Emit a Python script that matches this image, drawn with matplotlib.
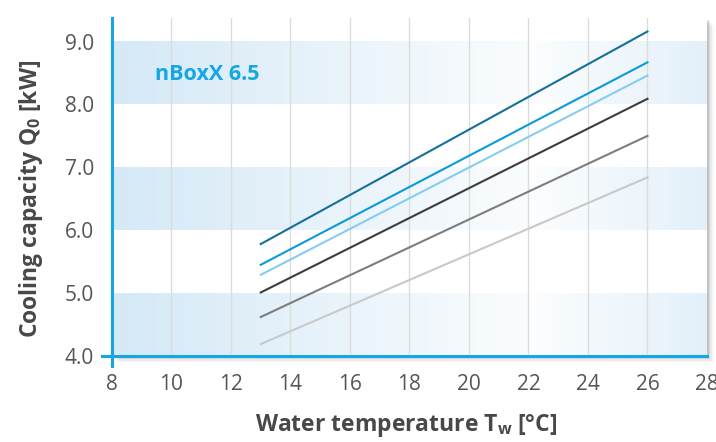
import numpy as np
import matplotlib.pyplot as plt
from matplotlib.colors import LinearSegmentedColormap
from matplotlib.patches import Rectangle

# water temperature range of the curves
t_w = [13, 26]
# cooling capacity at start / end of each curve (kW)
q_darkblue = [5.78, 9.16]
q_blue = [5.45, 8.67]
q_lightblue = [5.29, 8.46]
q_darkgrey = [5.01, 8.09]
q_grey = [4.62, 7.50]
q_lightgrey = [4.19, 6.84]

series = [q_darkblue, q_blue, q_lightblue, q_darkgrey, q_grey, q_lightgrey]
colors = ['#14709a', '#0a9ad8', '#86cdf0', '#3c3c3c', '#7d7d7d', '#c9c9c9']

x_ticks = [8, 10, 12, 14, 16, 18, 20, 22, 24, 26, 28]
y_ticks = [4.0, 5.0, 6.0, 7.0, 8.0, 9.0]
bands = [(4.0, 5.0), (6.0, 7.0), (8.0, 9.0)]

cyan = '#16a6e3'
txt = '#484848'
plt.rcParams['font.family'] = ['Open Sans', 'DejaVu Sans']

fig = plt.figure(figsize=(7.16, 4.42), dpi=100)
ax = fig.add_axes([0.1564, 0.1946, 0.8310, 0.7640])
xmin, xmax, ymin, ymax = 8, 28, 4.0, 9.37

# drop shadow right and bottom
for i, a in enumerate([0.10, 0.07, 0.045, 0.025, 0.012]):
    d = (i + 1) * 0.0022
    fig.patches.append(Rectangle((0.1564 + d, 0.1946 - d * 1.6), 0.8310, 0.7640,
                                 transform=fig.transFigure, facecolor='#000000',
                                 alpha=a, edgecolor='none', zorder=-5))

ax.set_facecolor('white')
# horizontal gradient for blue bands
cmap = LinearSegmentedColormap.from_list('band', [(0, '#d5e9f7'), (0.72, '#fbfdfe'), (1, '#e3f0fa')])
grad = np.linspace(0, 1, 256).reshape(1, -1)
for lo, hi in bands:
    ax.imshow(grad, cmap=cmap, aspect='auto', extent=[xmin, xmax, lo, hi], zorder=0,
              interpolation='bilinear')

for x in x_ticks[1:-1]:
    ax.plot([x, x], [ymin + 0.04, ymax], color='#dcdcdc', lw=1.0, zorder=1)

for q, c in zip(series, colors):
    ax.plot(t_w, q, color=c, lw=1.5, zorder=3)

ax.text(9.45, 8.48, 'nBoxX 6.5', color=cyan, fontsize=15.5, fontweight='bold',
        va='center', ha='left')

ax.set_xlim(xmin, xmax)
ax.set_ylim(ymin, ymax)
for s in ax.spines.values():
    s.set_visible(False)
# cyan axis lines with overhang
ax.plot([0, 0], [-0.03, 1], transform=ax.transAxes, color=cyan, lw=2.2, clip_on=False, zorder=5)
ax.plot([-0.016, 1], [0, 0], transform=ax.transAxes, color=cyan, lw=2.2, clip_on=False, zorder=5)

ax.set_xticks(x_ticks)
ax.set_yticks(y_ticks)
ax.set_yticklabels([f'{v:.1f}' for v in y_ticks])
ax.tick_params(axis='both', length=0, labelsize=15, colors='#555555')
ax.tick_params(axis='x', pad=13)
ax.tick_params(axis='y', pad=13)

ax.set_xlabel('Water temperature T$_\\mathregular{w}$ [°C]', fontsize=16.5, fontweight='bold',
              color=txt)
ax.set_ylabel('Cooling capacity Q$_\\mathregular{0}$ [kW]', fontsize=16.5, fontweight='bold',
              color=txt)
ax.xaxis.set_label_coords(0.494, -0.166)
ax.yaxis.set_label_coords(-0.112, 0.464)

fig.savefig('out.png', dpi=100)
